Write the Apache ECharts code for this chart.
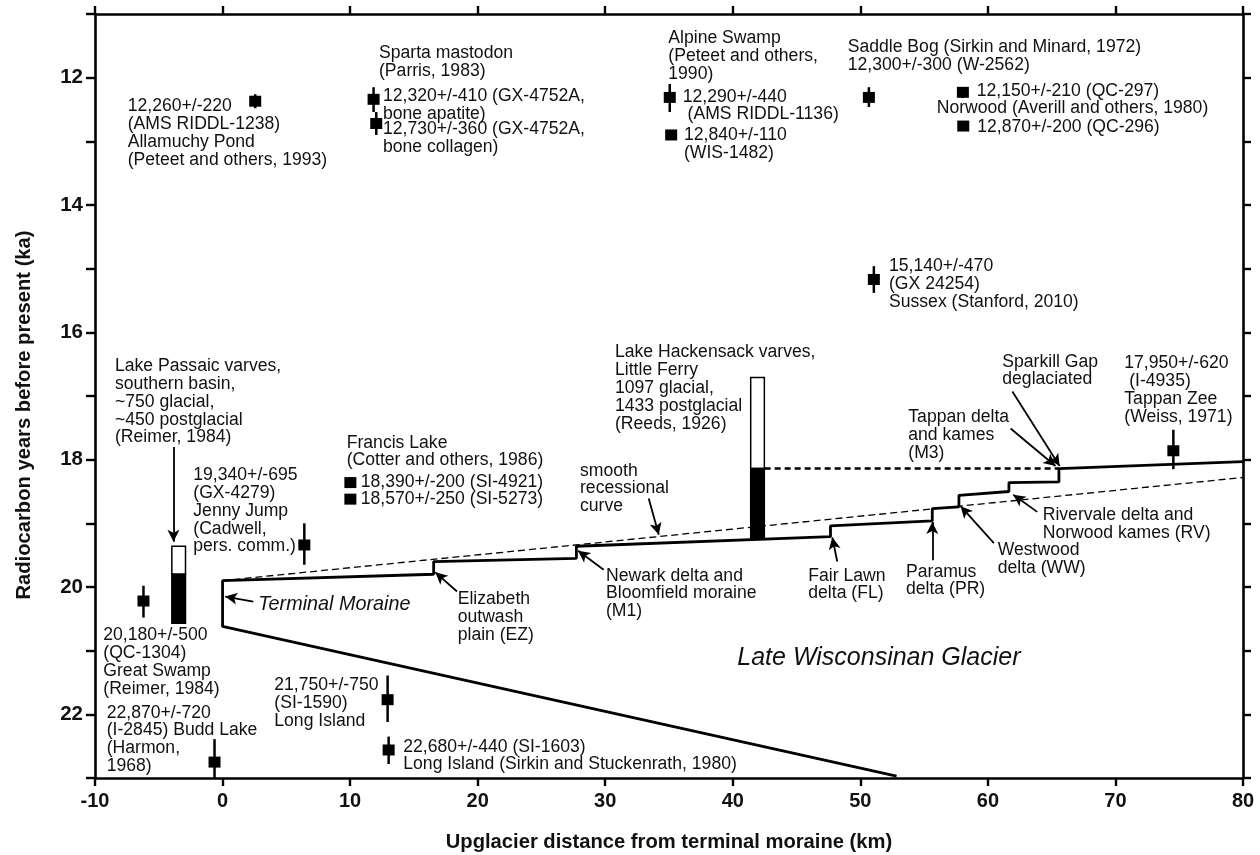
<!DOCTYPE html>
<html><head><meta charset="utf-8">
<script src="https://cdn.jsdelivr.net/npm/echarts@6/dist/echarts.min.js"></script>
<style>html,body{margin:0;padding:0;background:#fff}#c{width:1260px;height:855px}</style>
</head><body><div id="c"></div>
<script>
// ---------- data (km upglacier, ka radiocarbon) ----------
const xTickValues = [-10, 0, 10, 20, 30, 40, 50, 60, 70, 80];
const yTickLabels = [12, 14, 16, 18, 20, 22];
// radiocarbon dates: km, age ka, error-bar top ka, error-bar bottom ka
const dateX   = [2.56, 11.84, 12.05, 35.06, 35.17, 50.67, 58.04, 58.07, 51.06, 74.54, 10.02, 10.02, 6.41, -6.2, -0.63, 12.94, 13.02];
const dateAge = [12.37, 12.34, 12.72, 12.31, 12.90, 12.31, 12.23, 12.76, 15.17, 17.86, 18.36, 18.62, 19.34, 20.22, 22.75, 21.77, 22.56];
const dateLo  = [12.26, 12.15, 12.54, 12.10, 12.85, 12.15, 12.15, 12.70, 14.96, 17.53, 18.28, 18.55, 19.00, 19.98, 22.39, 21.39, 22.35];
const dateHi  = [12.48, 12.54, 12.90, 12.54, 12.95, 12.46, 12.32, 12.82, 15.38, 18.15, 18.44, 18.69, 19.65, 20.48, 23.00, 22.12, 22.78];
// varve columns: km, top ka, glacial/postglacial boundary ka, bottom ka
const varveX      = [-3.44, 41.94];
const varveTop    = [19.36, 16.71];
const varveSplit  = [19.80, 18.14];
const varveBottom = [20.57, 19.25];
// ice margin (terminal moraine wedge + recessional staircase)
const marginKm  = [52.84, 0, 0, 16.55, 16.55, 27.74, 27.74, 47.66, 47.66, 55.64, 55.64, 57.73, 57.73, 61.65, 61.65, 65.57, 65.57, 80];
const marginAge = [22.97, 20.62, 19.90, 19.80, 19.60, 19.55, 19.36, 19.21, 19.04, 18.96, 18.77, 18.74, 18.56, 18.50, 18.36, 18.35, 18.14, 18.03];
// smooth recessional curve
const smoothKm = [0, 80];
const smoothAge = [19.90, 18.28];
// Hackensack varve level to Sparkill Gap
const levelKm = [42.5, 65.57];
const levelAge = [18.14, 18.14];
// annotation arrows: fromKm, fromAge, toKm, toAge
const arrowList = [
  [-3.85, 17.80, -3.85, 19.29],
  [2.41, 20.23, 0.21, 20.15],
  [18.38, 20.07, 16.68, 19.77],
  [29.88, 19.73, 27.87, 19.43],
  [33.41, 18.61, 34.20, 19.18],
  [48.19, 19.60, 47.80, 19.22],
  [55.64, 19.58, 55.64, 18.98],
  [60.47, 19.31, 57.86, 18.73],
  [63.87, 18.82, 61.99, 18.55],
  [61.78, 17.51, 65.30, 18.10],
  [61.92, 16.93, 65.62, 18.10]
];

// ---------- layout of text annotations (pixels) ----------
const notes = [
  [127.7, 106, '12,260+/-220\n(AMS RIDDL-1238)\nAllamuchy Pond\n(Peteet and others, 1993)'],
  [379, 53.3, 'Sparta mastodon\n(Parris, 1983)'],
  [383, 96, '12,320+/-410 (GX-4752A,\nbone apatite)'],
  [383, 129.5, '12,730+/-360 (GX-4752A,\nbone collagen)'],
  [668.3, 38.3, 'Alpine Swamp\n(Peteet and others,\n1990)'],
  [682.7, 96.7, '12,290+/-440\n (AMS RIDDL-1136)'],
  [684, 135, '12,840+/-110\n(WIS-1482)'],
  [847.7, 47.3, 'Saddle Bog (Sirkin and Minard, 1972)\n12,300+/-300 (W-2562)'],
  [976.7, 90.7, '12,150+/-210 (QC-297)'],
  [936.7, 108.3, 'Norwood (Averill and others, 1980)'],
  [977.3, 127.3, '12,870+/-200 (QC-296)'],
  [889, 266, '15,140+/-470\n(GX 24254)\nSussex (Stanford, 2010)'],
  [1124.3, 363.3, '17,950+/-620\n (I-4935)\nTappan Zee\n(Weiss, 1971)'],
  [1002.3, 361.7, 'Sparkill Gap\ndeglaciated'],
  [908.3, 417.3, 'Tappan delta\nand kames\n(M3)'],
  [1042.7, 515, 'Rivervale delta and\nNorwood kames (RV)'],
  [997.7, 550, 'Westwood\ndelta (WW)'],
  [906, 571.7, 'Paramus\ndelta (PR)'],
  [808.3, 575.7, 'Fair Lawn\ndelta (FL)'],
  [606, 575.7, 'Newark delta and\nBloomfield moraine\n(M1)'],
  [457.7, 599, 'Elizabeth\noutwash\nplain (EZ)'],
  [403.3, 746.7, '22,680+/-440 (SI-1603)\nLong Island (Sirkin and Stuckenrath, 1980)'],
  [274.3, 685, '21,750+/-750\n(SI-1590)\nLong Island'],
  [106.7, 712.7, '22,870+/-720\n(I-2845) Budd Lake\n(Harmon,\n1968)'],
  [103.3, 635, '20,180+/-500\n(QC-1304)\nGreat Swamp\n(Reimer, 1984)'],
  [193.3, 475, '19,340+/-695\n(GX-4279)\nJenny Jump\n(Cadwell,\npers. comm.)'],
  [115, 366, 'Lake Passaic varves,\nsouthern basin,\n~750 glacial,\n~450 postglacial\n(Reimer, 1984)'],
  [346.7, 442.7, 'Francis Lake\n(Cotter and others, 1986)'],
  [360.7, 481.7, '18,390+/-200 (SI-4921)\n18,570+/-250 (SI-5273)'],
  [580, 470.7, 'smooth\nrecessional\ncurve'],
  [615, 352.3, 'Lake Hackensack varves,\nLittle Ferry\n1097 glacial,\n1433 postglacial\n(Reeds, 1926)']
];
const FONT = '"Liberation Sans", Arial, sans-serif';
const LH = 17.9;

const graphics = notes.map(n => ({
  type: 'text', x: n[0], y: n[1] - LH / 2, silent: true, z: 10,
  style: { text: n[2], font: '17.6px ' + FONT, fill: '#111', lineHeight: LH, align: 'left', verticalAlign: 'top' }
}));
graphics.push({ type: 'text', x: 737.3, y: 658.3, silent: true, z: 10,
  style: { text: 'Late Wisconsinan Glacier', font: 'italic 25px ' + FONT, fill: '#111', align: 'left', verticalAlign: 'middle' } });
graphics.push({ type: 'text', x: 258.3, y: 604, silent: true, z: 10,
  style: { text: 'Terminal Moraine', font: 'italic 19.8px ' + FONT, fill: '#111', align: 'left', verticalAlign: 'middle' } });
graphics.push({ type: 'text', x: 669, y: 842, silent: true, z: 10,
  style: { text: 'Upglacier distance from terminal moraine (km)', font: 'bold 20.2px ' + FONT, fill: '#111', align: 'center', verticalAlign: 'middle' } });
graphics.push({ type: 'text', x: 24, y: 415, rotation: Math.PI / 2, silent: true, z: 10,
  style: { text: 'Radiocarbon years before present (ka)', font: 'bold 20.2px ' + FONT, fill: '#111', align: 'center', verticalAlign: 'middle' } });

const chart = echarts.init(document.getElementById('c'), null, { renderer: 'canvas' });

const axisLine = { show: true, onZero: false, lineStyle: { color: '#000', width: 2.6 } };
const tick = len => ({ show: true, inside: false, length: len, lineStyle: { color: '#000', width: 2.4 } });

const datesData = dateX.map((x, i) => [x, dateAge[i], dateLo[i], dateHi[i]]);
const varveData = varveX.map((x, i) => [x, varveTop[i], varveSplit[i], varveBottom[i]]);
const COLW = 1.07; // column width, km

chart.setOption({
  animation: false,
  backgroundColor: '#fff',
  grid: { left: 95, top: 14, width: 1148, height: 764, containLabel: false },
  xAxis: [
    { type: 'value', position: 'bottom', min: -10, max: 80, interval: 10,
      axisLine, axisTick: tick(8), splitLine: { show: false },
      axisLabel: { color: '#111', fontWeight: 'bold', fontSize: 20, fontFamily: FONT, margin: 13,
        formatter: v => xTickValues.includes(v) ? String(v) : '' } },
    { type: 'value', position: 'top', min: -10, max: 80, interval: 10,
      axisLine, axisTick: tick(8), splitLine: { show: false }, axisLabel: { show: false } }
  ],
  yAxis: [
    { type: 'value', position: 'left', min: 11, max: 23, interval: 1, inverse: true,
      axisLine, axisTick: tick(9), splitLine: { show: false },
      axisLabel: { color: '#111', fontWeight: 'bold', fontSize: 20.5, fontFamily: FONT, margin: 12,
        formatter: v => yTickLabels.includes(v) ? String(v) : '' } },
    { type: 'value', position: 'right', min: 11, max: 23, interval: 1, inverse: true,
      axisLine, axisTick: tick(8), splitLine: { show: false }, axisLabel: { show: false } }
  ],
  graphic: graphics,
  series: [
    { type: 'line', name: 'ice margin', data: marginKm.map((x, i) => [x, marginAge[i]]),
      symbol: 'none', lineStyle: { color: '#000', width: 2.8 }, z: 3, silent: true },
    { type: 'line', name: 'smooth recessional curve', data: smoothKm.map((x, i) => [x, smoothAge[i]]),
      symbol: 'none', lineStyle: { color: '#000', width: 1.3, type: [7, 4] }, z: 2, silent: true,
      markLine: { silent: true, symbol: ['none', 'arrow'], symbolSize: [9, 12], animation: false,
        label: { show: false }, emphasis: { disabled: true },
        lineStyle: { color: '#000', width: 1.8, type: 'solid' },
        data: arrowList.map(a => [{ coord: [a[0], a[1]] }, { coord: [a[2], a[3]] }]) } },
    { type: 'line', name: 'Sparkill level', data: levelKm.map((x, i) => [x, levelAge[i]]),
      symbol: 'none', lineStyle: { color: '#000', width: 2.5, type: [6, 4] }, z: 2, silent: true },
    { type: 'custom', name: 'varves', data: varveData, z: 4, silent: true,
      encode: { x: 0, y: [1, 3] },
      renderItem: (params, api) => {
        const x = api.value(0);
        const tl = api.coord([x - COLW / 2, api.value(1)]);
        const ms = api.coord([x + COLW / 2, api.value(2)]);
        const br = api.coord([x + COLW / 2, api.value(3)]);
        return { type: 'group', children: [
          { type: 'rect', shape: { x: tl[0], y: tl[1], width: ms[0] - tl[0], height: ms[1] - tl[1] },
            style: { fill: '#fff', stroke: '#000', lineWidth: 1.5 } },
          { type: 'rect', shape: { x: tl[0], y: ms[1], width: br[0] - tl[0], height: br[1] - ms[1] },
            style: { fill: '#000', stroke: '#000', lineWidth: 1.5 } }
        ] };
      } },
    { type: 'custom', name: 'radiocarbon dates', data: datesData, z: 5, silent: true,
      encode: { x: 0, y: [1, 2, 3] },
      renderItem: (params, api) => {
        const x = api.value(0);
        const c = api.coord([x, api.value(1)]);
        const t = api.coord([x, api.value(2)]);
        const b = api.coord([x, api.value(3)]);
        return { type: 'group', children: [
          { type: 'line', shape: { x1: c[0], y1: t[1], x2: c[0], y2: b[1] }, style: { stroke: '#000', lineWidth: 2.5 } },
          { type: 'rect', shape: { x: c[0] - 6, y: c[1] - 5.5, width: 12, height: 11 }, style: { fill: '#000' } }
        ] };
      } }
  ]
});
</script></body></html>
